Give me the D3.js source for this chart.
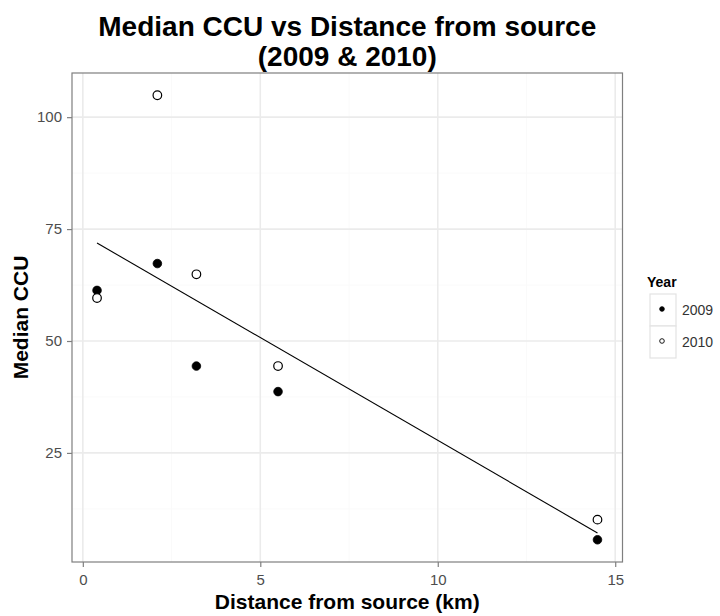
<!DOCTYPE html>
<html>
<head>
<meta charset="utf-8">
<script src="https://cdn.jsdelivr.net/npm/d3@7"></script>
<style>
  html, body { margin: 0; padding: 0; background: #fff; }
  svg { display: block; font-family: "Liberation Sans", Arial, sans-serif; }
</style>
</head>
<body>
<svg id="chart" width="720" height="616"></svg>
<script>
// ---- data ----
const distance2009 = [0.4, 2.1, 3.2, 5.5, 14.5];
const ccu2009      = [61.3, 67.3, 44.4, 38.7, 5.6];
const distance2010 = [0.4, 2.1, 3.2, 5.5, 14.5];
const ccu2010      = [59.6, 104.9, 64.9, 44.4, 10.1];
const years = ["2009", "2010"];
const xTicks = [0, 5, 10, 15];
const yTicks = [25, 50, 75, 100];

(function () {
const svg = d3.select("#chart");
const pL = 72, pR = 622.5, pT = 73, pB = 562;

const pts = [];
distance2009.forEach((d, i) => pts.push({x: d, y: ccu2009[i], year: "2009"}));
distance2010.forEach((d, i) => pts.push({x: d, y: ccu2010[i], year: "2010"}));

const xExt = d3.extent(pts, d => d.x), yExt = d3.extent(pts, d => d.y);
const xPad = (xExt[1] - xExt[0]) * 0.05, yPad = (yExt[1] - yExt[0]) * 0.05;
const x = d3.scaleLinear().domain([xExt[0] - xPad, xExt[1] + xPad]).range([pL, pR]);
const y = d3.scaleLinear().domain([yExt[0] - yPad, yExt[1] + yPad]).range([pB, pT]);

// panel background
svg.append("rect").attr("x", pL).attr("y", pT).attr("width", pR - pL).attr("height", pB - pT).attr("fill", "#fff");

// minor grid
const xMinor = [2.5, 7.5, 12.5], yMinor = [12.5, 37.5, 62.5, 87.5];
const g = svg.append("g");
g.selectAll(".xm").data(xMinor).join("line")
  .attr("x1", d => x(d)).attr("x2", d => x(d)).attr("y1", pT).attr("y2", pB)
  .attr("stroke", "#fafafa").attr("stroke-width", 1);
g.selectAll(".ym").data(yMinor).join("line")
  .attr("y1", d => y(d)).attr("y2", d => y(d)).attr("x1", pL).attr("x2", pR)
  .attr("stroke", "#fafafa").attr("stroke-width", 1);
// major grid
g.selectAll(".xg").data(xTicks).join("line")
  .attr("x1", d => x(d)).attr("x2", d => x(d)).attr("y1", pT).attr("y2", pB)
  .attr("stroke", "#ebebeb").attr("stroke-width", 1.6);
g.selectAll(".yg").data(yTicks).join("line")
  .attr("y1", d => y(d)).attr("y2", d => y(d)).attr("x1", pL).attr("x2", pR)
  .attr("stroke", "#ebebeb").attr("stroke-width", 1.6);

// regression line (lm fit)
const mx = d3.mean(pts, d => d.x), my = d3.mean(pts, d => d.y);
const sxy = d3.sum(pts, d => (d.x - mx) * (d.y - my));
const sxx = d3.sum(pts, d => (d.x - mx) * (d.x - mx));
const slope = sxy / sxx, intercept = my - slope * mx;
const lineX = [xExt[0], xExt[1]];
svg.append("path")
  .datum(lineX)
  .attr("d", d3.line().x(d => x(d)).y(d => y(intercept + slope * d)))
  .attr("fill", "none").attr("stroke", "#000").attr("stroke-width", 1.1);

// points
svg.selectAll(".pt").data(pts).join("circle")
  .attr("cx", d => x(d.x)).attr("cy", d => y(d.y)).attr("r", 4.3)
  .attr("fill", d => d.year === "2009" ? "#000" : "#fff")
  .attr("stroke", "#000").attr("stroke-width", d => d.year === "2009" ? 0.8 : 1.2);

// panel border
svg.append("rect").attr("x", pL).attr("y", pT).attr("width", pR - pL).attr("height", pB - pT)
  .attr("fill", "none").attr("stroke", "#7f7f7f").attr("stroke-width", 1.2);

// axes
const xAxis = svg.append("g").attr("transform", `translate(0,${pB})`)
  .call(d3.axisBottom(x).tickValues(xTicks).tickSize(5).tickPadding(7).tickFormat(d3.format("d")));
const yAxis = svg.append("g").attr("transform", `translate(${pL},0)`)
  .call(d3.axisLeft(y).tickValues(yTicks).tickSize(5).tickPadding(5).tickFormat(d3.format("d")));
[xAxis, yAxis].forEach(a => {
  a.select(".domain").remove();
  a.selectAll(".tick line").attr("stroke", "#7f7f7f").attr("stroke-width", 1.2);
  a.selectAll(".tick text").attr("fill", "#4d4d4d").style("font-size", "15px")
    .style("font-family", "'Liberation Sans', Arial, sans-serif");
});

// titles
const title = svg.append("text").attr("text-anchor", "middle")
  .style("font-size", "28px").style("font-weight", "bold").attr("fill", "#000");
title.append("tspan").attr("x", (pL + pR) / 2).attr("y", 36).text("Median CCU vs Distance from source");
title.append("tspan").attr("x", (pL + pR) / 2).attr("y", 66).text("(2009 & 2010)");

svg.append("text").attr("x", (pL + pR) / 2).attr("y", 609).attr("text-anchor", "middle")
  .style("font-size", "21px").style("font-weight", "bold").text("Distance from source (km)");
svg.append("text").attr("transform", `translate(28,${(pT + pB) / 2}) rotate(-90)`)
  .attr("text-anchor", "middle").style("font-size", "21px").style("font-weight", "bold").text("Median CCU");

// legend
const leg = svg.append("g");
leg.append("text").attr("x", 647).attr("y", 287).style("font-size", "14px").style("font-weight", "bold").text("Year");
const keyH = 32, keyW = 26, keyX = 650, keyY = 294;
years.forEach((yr, i) => {
  const ky = keyY + i * keyH;
  leg.append("rect").attr("x", keyX).attr("y", ky).attr("width", keyW).attr("height", keyH)
    .attr("fill", "#fff").attr("stroke", "#e3e3e3").attr("stroke-width", 1.2);
  leg.append("circle").attr("cx", keyX + 12).attr("cy", ky + keyH / 2 - 1).attr("r", 2.3)
    .attr("fill", yr === "2009" ? "#000" : "#fff").attr("stroke", "#000").attr("stroke-width", 0.9);
  leg.append("text").attr("x", 682).attr("y", ky + keyH / 2 + 5).style("font-size", "14px").attr("fill", "#333").text(yr);
});
})();
</script>
</body>
</html>
